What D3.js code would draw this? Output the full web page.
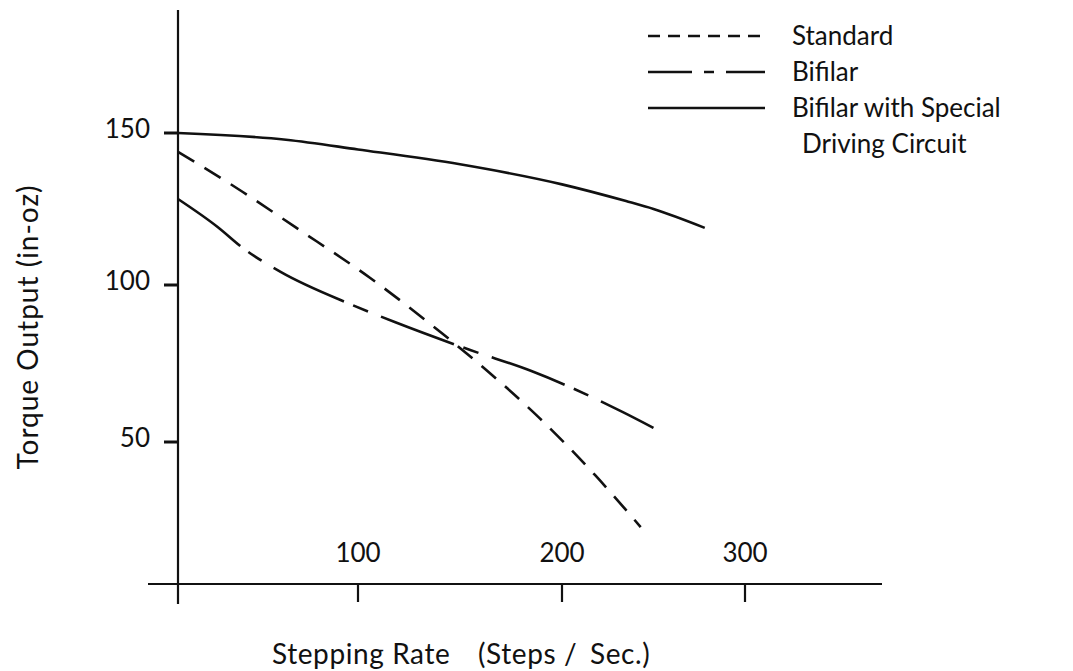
<!DOCTYPE html>
<html>
<head>
<meta charset="utf-8">
<script src="https://cdn.jsdelivr.net/npm/d3@7"></script>
<style>
  html, body { margin: 0; padding: 0; background: #fff; }
  svg text { font-family: Lato, "Open Sans", sans-serif; fill: #111; }
</style>
</head>
<body>
<svg id="chart" width="1073" height="671"></svg>
<script>
// ---- data ----
const xTicks = [100, 200, 300];
const yTicks = [50, 100, 150];

const standardX = [0, 36, 65, 106, 141, 164, 189, 218, 243];
const standardY = [143.8, 130.6, 119.1, 102.3, 84.7, 72.3, 57.6, 39.5, 22.9];

const bifilarX = [0, 22, 36, 57, 97, 118, 155, 185, 233, 250];
const bifilarY = [128.3, 119.1, 112.2, 104.3, 93.6, 88.2, 79.3, 72.6, 59.6, 54.5];

const specialX = [0, 60, 100, 150, 200, 235, 250, 278];
const specialY = [150, 147.8, 144.6, 139.7, 133.1, 127.6, 125, 118.8];

const seriesNames = ["Standard", "Bifilar", "Bifilar with Special"];
const seriesNameLine2 = "Driving Circuit";
const xTitleParts = ["Stepping Rate", "(Steps /", "Sec.)"];
const yTitle = "Torque Output (in-oz)";

// ---- layout ----
const svg = d3.select("#chart");
const axisX0 = 178, axisY0 = 584;

// hand-drawn axes: tick spacing is not perfectly uniform
const x = d3.scaleLinear().domain([0, 100, 200, 300]).range([178, 358, 562, 745]);
const y = d3.scaleLinear().domain([50, 100, 150]).range([442, 285, 133]);

const ink = "#111";

// axes lines
svg.append("line").attr("x1", axisX0).attr("x2", axisX0).attr("y1", 10).attr("y2", 604)
  .attr("stroke", ink).attr("stroke-width", 2.2);
svg.append("line").attr("x1", 148).attr("x2", 882).attr("y1", axisY0).attr("y2", axisY0)
  .attr("stroke", ink).attr("stroke-width", 2.2);

// x ticks + labels
const xg = svg.append("g");
xg.selectAll("line").data(xTicks).join("line")
  .attr("x1", d => x(d)).attr("x2", d => x(d))
  .attr("y1", axisY0).attr("y2", axisY0 + 18)
  .attr("stroke", ink).attr("stroke-width", 2.2);
xg.selectAll("text").data(xTicks).join("text")
  .attr("x", d => x(d)).attr("y", axisY0 - 22)
  .attr("text-anchor", "middle").attr("font-size", 26)
  .text(d => d);

// y ticks + labels
const yg = svg.append("g");
yg.selectAll("line").data(yTicks).join("line")
  .attr("x1", axisX0 - 14).attr("x2", axisX0)
  .attr("y1", d => y(d)).attr("y2", d => y(d))
  .attr("stroke", ink).attr("stroke-width", 3);
yg.selectAll("text").data(yTicks).join("text")
  .attr("x", 150).attr("y", d => y(d) + 5)
  .attr("text-anchor", "end").attr("font-size", 26)
  .text(d => d);

// axis titles
const xt = svg.append("text").attr("y", 664).attr("font-size", 28).attr("letter-spacing", 0.6);
xt.append("tspan").attr("x", 272).text(xTitleParts[0]);
xt.append("tspan").attr("x", 478).text(xTitleParts[1]);
xt.append("tspan").attr("x", 590).text(xTitleParts[2]);
svg.append("text")
  .attr("transform", "translate(38,327) rotate(-90)")
  .attr("text-anchor", "middle").attr("font-size", 28)
  .attr("letter-spacing", 1)
  .text(yTitle);

// curves
const line = d3.line().x(d => x(d[0])).y(d => y(d[1])).curve(d3.curveMonotoneX);
const series = [
  { xs: standardX, ys: standardY, dash: "19,12" },
  { xs: bifilarX, ys: bifilarY, dash: "78,10,16,14" },
  { xs: specialX, ys: specialY, dash: null }
];
svg.append("g").selectAll("path").data(series).join("path")
  .attr("d", s => line(s.xs.map((v, i) => [v, s.ys[i]])))
  .attr("fill", "none").attr("stroke", ink).attr("stroke-width", 2.6)
  .attr("stroke-dasharray", s => s.dash);

// legend
const legendDash = ["12,8", "44,12,10,12,39", null];
const lg = svg.append("g");
const rows = [36, 72, 108];
lg.selectAll("line").data(seriesNames).join("line")
  .attr("x1", 648).attr("x2", 765)
  .attr("y1", (d, i) => rows[i]).attr("y2", (d, i) => rows[i])
  .attr("stroke", ink).attr("stroke-width", 2.4)
  .attr("stroke-dasharray", (d, i) => legendDash[i]);
lg.selectAll("text").data(seriesNames).join("text")
  .attr("x", 792).attr("y", (d, i) => rows[i] + 9)
  .attr("font-size", 26).text(d => d);
lg.append("text").attr("x", 802).attr("y", 153).attr("font-size", 26).text(seriesNameLine2);
</script>
</body>
</html>
